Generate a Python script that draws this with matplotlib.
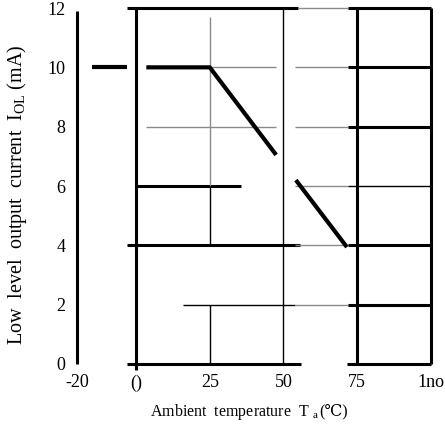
import matplotlib
matplotlib.use("Agg")
import matplotlib.pyplot as plt

plt.rcParams['font.family'] = ['Liberation Serif', 'DejaVu Serif']
plt.rcParams['mathtext.fontset'] = 'custom'
plt.rcParams['mathtext.rm'] = 'Liberation Serif'

# derating curve, drawn in pieces as in the scan
curve_x1 = [-15, -3]
curve_y1 = [10, 10]
curve_x2 = [3.5, 25, 47.5]
curve_y2 = [10, 10, 7.05]
curve_x3 = [54.2, 71.5]
curve_y3 = [6.2, 3.94]

# grid pieces: (x from, x to, y, kind)
h_lines = [
    (-3, 55, 12, 'thick'), (55, 72, 12, 'gray'), (72, 100, 12, 'thick'),
    (25, 47.5, 10, 'gray'), (54, 72, 10, 'gray'), (72, 100, 10, 'thick'),
    (3.5, 47.5, 8, 'gray'), (54, 72, 8, 'gray'), (72, 100, 8, 'thick'),
    (0, 35.5, 6, 'thick'), (54, 72, 6, 'gray'), (72, 100, 6, 'thin'),
    (-3, 55.5, 4, 'thick'), (54, 72, 4, 'gray'), (72, 100, 4, 'thick'),
    (16, 54, 2, 'thin'), (54, 72, 2, 'gray'), (72, 100, 2, 'thick'),
    (-3, 56, 0, 'thick'), (71.5, 100, 0, 'thick'),
]
# (x, y from, y to, kind)
v_lines = [
    (-20, 0, 11.9, 'thick'),
    (0, -0.2, 12, 'thick'),
    (25, 6, 11.7, 'gray'), (25, 4, 6, 'thin'), (25, 0, 2, 'thin'),
    (50, 0, 12, 'thin'),
    (75, 0, 12, 'thick'),
    (100, 0, 12, 'thick'),
]
styles = {'thick': dict(color='black', lw=2.2),
          'thin': dict(color='black', lw=1.0),
          'gray': dict(color='#8a8a8a', lw=1.0)}

x_ticks = [-20, 0, 25, 50, 75, 100]
x_labels = ['-20', '()', '25', '50', '75', '1no']
y_ticks = [0, 2, 4, 6, 8, 10, 12]
y_labels = ['0', '2', '4', '6', '8', '10', '12']

fig = plt.figure(figsize=(4.45, 4.25), dpi=100)
ax = fig.add_axes([0.1598, 0.1226, 0.8286, 0.8725])

for x0, x1, y, k in h_lines:
    ax.plot([x0, x1], [y, y], solid_capstyle='butt', **styles[k])
for x, y0, y1, k in v_lines:
    ax.plot([x, x], [y0, y1], solid_capstyle='butt', **styles[k])

for xs, ys in [(curve_x1, curve_y1), (curve_x2, curve_y2), (curve_x3, curve_y3)]:
    ax.plot(xs, ys, color='black', lw=3.0, solid_capstyle='butt')

ax.set_xlim(-22, 103)
ax.set_ylim(-0.3, 12.2)
for s in ax.spines.values():
    s.set_visible(False)
ax.set_xticks(x_ticks)
ax.set_xticklabels(x_labels)
ax.set_yticks(y_ticks)
ax.set_yticklabels(y_labels)
ax.tick_params(length=0, labelsize=13)
ax.tick_params(axis='x', pad=1)
ax.tick_params(axis='y', pad=4)

# x label: the degree-Celsius sign is not in Liberation Serif, so it goes
# in a plain text piece placed right after the mathtext part
t1 = fig.text(150 / 445, 0.022, 'Ambient  temperature  T $_{\\rm a}$', ha='left',
              va='baseline', fontsize=11.5)
fig.canvas.draw()
bb = t1.get_window_extent()
fig.text(bb.x1 / fig.bbox.width, 0.022, '(\u2103)', ha='left', va='baseline',
         fontsize=11.5)

fig.text(0.038, 0.541, 'Low  level  output  current  I$_{\\rm OL}$ (mA)', rotation=90,
         ha='center', va='center', fontsize=14.5)

fig.savefig('out.png', dpi=100)
